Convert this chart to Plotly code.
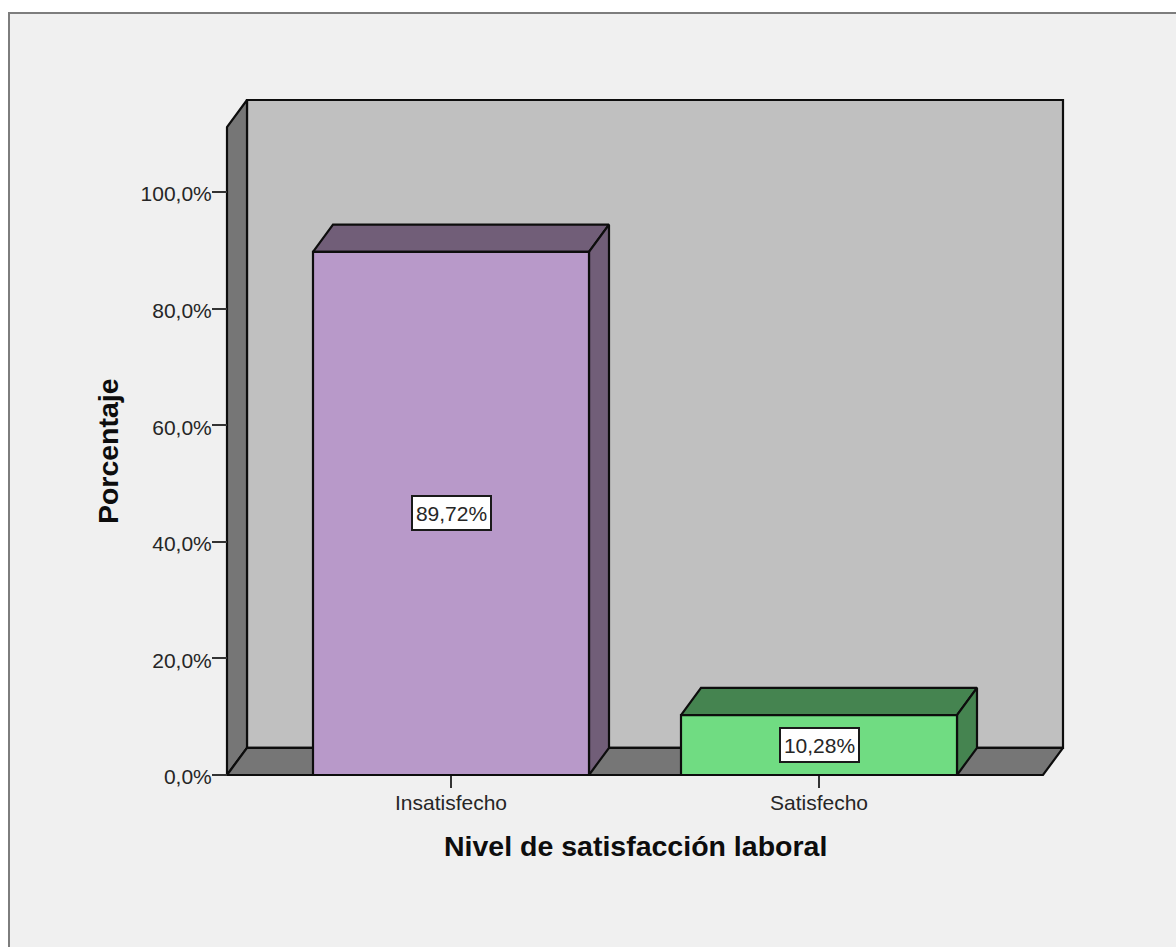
import plotly.graph_objects as go

categories = ["Insatisfecho", "Satisfecho"]
percentages = [89.72, 10.28]
value_labels = ["89,72%", "10,28%"]
y_ticks = [0, 20, 40, 60, 80, 100]
y_tick_labels = ["0,0%", "20,0%", "40,0%", "60,0%", "80,0%", "100,0%"]
front_colors = ["#b899c9", "#70dc82"]
shade_colors = ["#715e78", "#458450"]

WIDTH, HEIGHT = 1176, 947
# The plot area is slightly larger than the drawn box so outlines are not clipped.
PAD = 8
M_L, M_R, M_T, M_B = 227 - PAD, 113 - PAD, 100 - PAD, 172 - PAD
PX_PER_X, PX_PER_Y = 368, 5.83
INK = "#0d0d0d"
TEXT = "#262626"
FONT = "Liberation Sans"

# Extruded look: every box is pushed back by this offset in axis units.
DX, DY = 20 / PX_PER_X, 27.2 / PX_PER_Y
BAR_HALF = 0.375
X_MIN, X_FRONT_MAX = -0.6087, 1.6087
Y_WALL = 111.1
X_RANGE = [X_MIN - PAD / PX_PER_X, X_FRONT_MAX + DX + PAD / PX_PER_X]
Y_RANGE = [-PAD / PX_PER_Y, Y_WALL + DY + PAD / PX_PER_Y]

fig = go.Figure()


def face(xs, ys, fill):
    fig.add_trace(go.Scatter(
        x=xs + xs[:1], y=ys + ys[:1], mode="lines", fill="toself", fillcolor=fill,
        line=dict(color=INK, width=2.2), hoverinfo="skip", showlegend=False,
    ))


# Back wall, left wall, floor
face([X_MIN + DX, X_FRONT_MAX + DX, X_FRONT_MAX + DX, X_MIN + DX],
     [DY, DY, Y_WALL + DY, Y_WALL + DY], "#c0c0c0")
face([X_MIN, X_MIN + DX, X_MIN + DX, X_MIN],
     [0, DY, Y_WALL + DY, Y_WALL], "#767676")
face([X_MIN, X_FRONT_MAX, X_FRONT_MAX + DX, X_MIN + DX],
     [0, 0, DY, DY], "#767676")

# Bars: top, side, then front face
for i, value in enumerate(percentages):
    left, right = i - BAR_HALF, i + BAR_HALF
    face([left, right, right + DX, left + DX],
         [value, value, value + DY, value + DY], shade_colors[i])
    face([right, right + DX, right + DX, right],
         [0, DY, value + DY, value], shade_colors[i])
    face([left, right, right, left], [0, 0, value, value], front_colors[i])

annotations = [
    dict(x=i, y=value / 2, xref="x", yref="y", text=value_labels[i], showarrow=False,
         font=dict(family=FONT, size=21, color=TEXT), bgcolor="white",
         bordercolor="#1a1a1a", borderwidth=2, width=77, height=32, borderpad=0,
         xanchor="center", yanchor="middle")
    for i, value in enumerate(percentages)
]
annotations.append(dict(
    x=(X_MIN + X_FRONT_MAX) / 2, y=0, xref="x", yref="y", yshift=-71,
    text="<b>Nivel de satisfacción laboral</b>", showarrow=False,
    font=dict(family=FONT, size=28.5, color=INK), xanchor="center", yanchor="middle",
))
annotations.append(dict(
    x=X_MIN, y=Y_WALL / 2, xref="x", yref="y", xshift=-119,
    text="<b>Porcentaje</b>", showarrow=False, textangle=-90,
    font=dict(family=FONT, size=28.5, color=INK), xanchor="center", yanchor="middle",
))

# Panel behind the chart, with a grey rule along its top and left edges
px_w = WIDTH - M_L - M_R
px_h = HEIGHT - M_T - M_B
panel_x0 = (9 - M_L) / px_w
panel_x1 = (WIDTH + 5 - M_L) / px_w
panel_y1 = 1 + (M_T - 13) / px_h
panel_y0 = 1 - (HEIGHT + 5 - M_T) / px_h

fig.update_layout(
    width=WIDTH, height=HEIGHT, autosize=False,
    margin=dict(l=M_L, r=M_R, t=M_T, b=M_B, pad=0),
    paper_bgcolor="white", plot_bgcolor="rgba(0,0,0,0)",
    showlegend=False, annotations=annotations,
    shapes=[dict(type="rect", xref="paper", yref="paper", layer="below",
                 x0=panel_x0, x1=panel_x1, y0=panel_y0, y1=panel_y1,
                 fillcolor="#f0f0f0", line=dict(color="#7d7d7d", width=2))],
    xaxis=dict(range=X_RANGE, anchor="free", position=PAD / px_h,
               tickvals=[0, 1], ticktext=categories, ticks="outside",
               ticklen=12, tickwidth=2, tickcolor="#333333", showgrid=False,
               zeroline=False, showline=False, ticklabelstandoff=-3,
               tickfont=dict(family=FONT, size=21, color=TEXT)),
    yaxis=dict(range=Y_RANGE, anchor="free", position=PAD / px_w,
               tickvals=y_ticks, ticktext=y_tick_labels, ticks="outside",
               ticklen=15, tickwidth=2, tickcolor="#333333", showgrid=False,
               zeroline=False, showline=False, ticklabelstandoff=-4, ticklabelshift=2,
               tickfont=dict(family=FONT, size=21, color=TEXT)),
)

fig.write_html("out.html", config={"displayModeBar": False})
